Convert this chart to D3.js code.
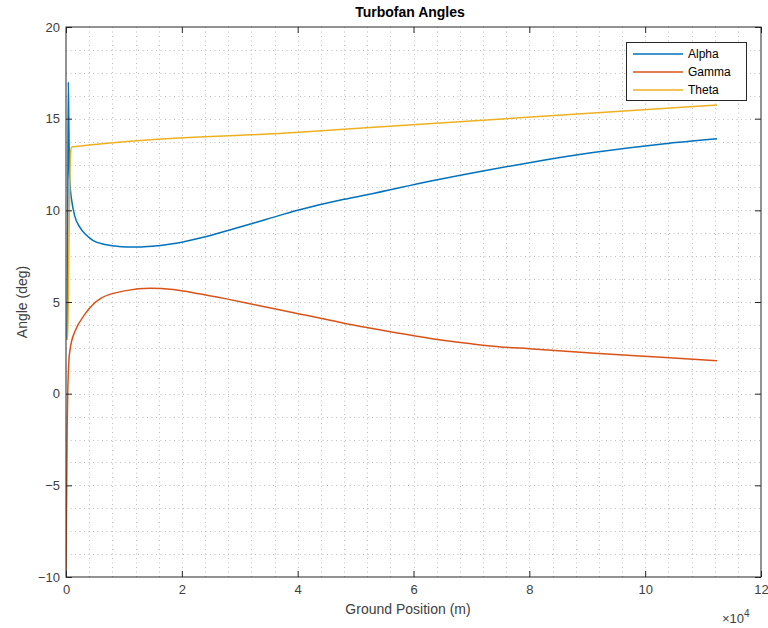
<!DOCTYPE html>
<html>
<head>
<meta charset="utf-8">
<script src="https://cdn.jsdelivr.net/npm/d3@7"></script>
<style>
  html, body { margin: 0; padding: 0; background: #fff; }
  svg { display: block; font-family: "Liberation Sans", Arial, sans-serif; }
</style>
</head>
<body>
<svg id="chart" width="768" height="628"></svg>
<script>
// ---- Data (x in units of 1e4 m, angles in degrees) ----
const seriesNames = ["Alpha", "Gamma", "Theta"];
const alphaX = [0, 0.02, 0.03, 0.04, 0.05, 0.06, 0.08, 0.1, 0.15, 0.24, 0.35, 0.47, 0.65, 0.85, 1.05, 1.3, 1.6, 1.9, 2.35, 2.9, 3.45, 4.0, 4.8, 5.2, 6.3, 7.2, 8.0, 9.1, 10.3, 11.24];
const alphaY = [3, 3, 10, 17, 14.5, 12, 11, 10.5, 9.7, 9.07, 8.65, 8.35, 8.15, 8.05, 8.0, 8.0, 8.07, 8.2, 8.52, 9.0, 9.5, 10.0, 10.6, 10.85, 11.6, 12.15, 12.6, 13.15, 13.62, 13.9];
const gammaX = [0, 0.01, 0.02, 0.03, 0.05, 0.07, 0.1, 0.155, 0.33, 0.6, 1.04, 1.45, 1.85, 2.3, 2.77, 3.34, 4.03, 4.6, 5.17, 5.7, 6.32, 7.0, 7.47, 8.0, 9.13, 10.28, 11.24];
const gammaY = [-10, -6, -2, 0, 1.8, 2.4, 2.9, 3.4, 4.35, 5.2, 5.62, 5.75, 5.68, 5.45, 5.17, 4.8, 4.35, 3.98, 3.62, 3.32, 3.0, 2.72, 2.56, 2.45, 2.2, 1.98, 1.8];
const thetaX = [0, 0.03, 0.05, 0.08, 0.1, 4.03, 7.7, 11.24];
const thetaY = [3, 3, 8, 13.2, 13.45, 14.26, 15.02, 15.75];
const xTicks = [0, 2, 4, 6, 8, 10, 12];
const yTicks = [-10, -5, 0, 5, 10, 15, 20];
const xMinor = d3.range(0, 12.001, 0.4);
const yMinor = d3.range(-10, 20.001, 1.25);
const colors = ["#0072BD", "#D95319", "#EDB120"];

const series = [
  { name: seriesNames[0], pts: alphaX.map((x, i) => [x, alphaY[i]]), color: colors[0] },
  { name: seriesNames[1], pts: gammaX.map((x, i) => [x, gammaY[i]]), color: colors[1] },
  { name: seriesNames[2], pts: thetaX.map((x, i) => [x, thetaY[i]]), color: colors[2] }
];

// ---- Layout ----
const L = 66, R = 761, T = 27, B = 577;
const svg = d3.select("#chart");
const x = d3.scaleLinear().domain([0, 12]).range([L, R]);
const y = d3.scaleLinear().domain([-10, 20]).range([B, T]);
const axisColor = "#262626";
const textColor = "#404040";

svg.append("defs").append("clipPath").attr("id", "clip")
  .append("rect").attr("x", L).attr("y", T).attr("width", R - L).attr("height", B - T);

// Grid (minor + major, dotted)
const grid = svg.append("g").attr("stroke", "#bdbdbd").attr("stroke-width", 1).attr("stroke-dasharray", "1,3.5");
grid.selectAll("line.vx").data(xMinor.filter(v => v > 0 && v < 12)).enter().append("line")
  .attr("x1", d => Math.round(x(d)) + 0.5).attr("x2", d => Math.round(x(d)) + 0.5)
  .attr("y1", T).attr("y2", B);
grid.selectAll("line.hy").data(yMinor.filter(v => v > -10 && v < 20)).enter().append("line")
  .attr("y1", d => Math.round(y(d)) + 0.5).attr("y2", d => Math.round(y(d)) + 0.5)
  .attr("x1", L).attr("x2", R);

// Lines
const line = d3.line().x(d => x(d[0])).y(d => y(d[1])).curve(d3.curveMonotoneX);
const plot = svg.append("g").attr("clip-path", "url(#clip)");
series.forEach(s => {
  plot.append("path").datum(s.pts).attr("d", line)
    .attr("fill", "none").attr("stroke", s.color).attr("stroke-width", 1.5);
});

// Axes box
svg.append("rect").attr("x", L).attr("y", T).attr("width", R - L).attr("height", B - T)
  .attr("fill", "none").attr("stroke", axisColor).attr("stroke-width", 1);

// Axes with inner ticks
const tickLen = 6;
const xAxisB = d3.axisBottom(x).tickValues(xTicks).tickSize(-tickLen).tickPadding(8).tickFormat(d3.format("d"));
const xAxisT = d3.axisTop(x).tickValues(xTicks).tickSize(-tickLen).tickFormat("");
const yAxisL = d3.axisLeft(y).tickValues(yTicks).tickSize(-tickLen).tickPadding(6).tickFormat(d3.format("d"));
const yAxisR = d3.axisRight(y).tickValues(yTicks).tickSize(-tickLen).tickFormat("");

function style(g) {
  g.select(".domain").remove();
  g.selectAll(".tick line").attr("stroke", axisColor);
  g.selectAll(".tick text").attr("fill", textColor).attr("font-size", 13)
    .attr("font-family", "Liberation Sans, Arial, sans-serif");
}
svg.append("g").attr("transform", `translate(0,${B})`).call(xAxisB).call(style);
svg.append("g").attr("transform", `translate(0,${T})`).call(xAxisT).call(style);
svg.append("g").attr("transform", `translate(${L},0)`).call(yAxisL).call(style);
svg.append("g").attr("transform", `translate(${R},0)`).call(yAxisR).call(style);

// Exponent label
const ex = svg.append("text").attr("x", 722).attr("y", 623).attr("fill", textColor)
  .attr("font-size", 13);
ex.append("tspan").text("×10");
ex.append("tspan").attr("dy", -6).attr("font-size", 10).text("4");

// Title and labels
svg.append("text").attr("x", 410).attr("y", 17).attr("text-anchor", "middle")
  .attr("font-weight", "bold").attr("font-size", 14).attr("fill", "#000").text("Turbofan Angles");
svg.append("text").attr("x", 408).attr("y", 614).attr("text-anchor", "middle")
  .attr("font-size", 14).attr("fill", textColor).text("Ground Position (m)");
svg.append("text").attr("transform", `translate(27,${(T + B) / 2}) rotate(-90)`)
  .attr("text-anchor", "middle").attr("font-size", 14).attr("fill", textColor).text("Angle (deg)");

// Legend
const lg = svg.append("g");
lg.append("rect").attr("x", 626.5).attr("y", 42.5).attr("width", 120).attr("height", 58)
  .attr("fill", "#fff").attr("stroke", axisColor).attr("stroke-width", 1);
series.forEach((s, i) => {
  const yy = 54 + i * 18;
  lg.append("line").attr("x1", 633).attr("x2", 683).attr("y1", yy).attr("y2", yy)
    .attr("stroke", s.color).attr("stroke-width", 1.5);
  lg.append("text").attr("x", 688).attr("y", yy + 4).attr("font-size", 12)
    .attr("fill", "#000").text(s.name);
});
</script>
</body>
</html>
